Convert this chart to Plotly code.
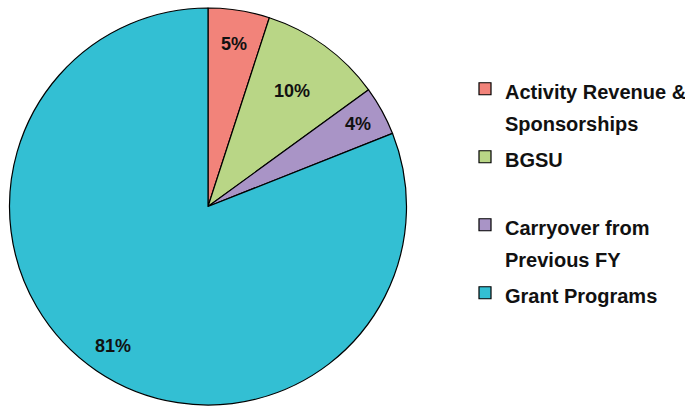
import math
import plotly.graph_objects as go

categories = ["Activity Revenue &<br>Sponsorships", "BGSU<br> ", "Carryover from<br>Previous FY", "Grant Programs"]
values = [5, 10, 4, 81]
value_labels = ["5%", "10%", "4%", "81%"]
colors = ["#F2837A", "#B9D686", "#A994C6", "#33BFD3"]
label_radius = [0.83, 0.72, 0.86, 0.85]

W, H = 685, 407
dom_x = [9 / W, 407 / W]
dom_y = [(H - 405) / H, (H - 8) / H]
FONT = "Liberation Sans, Arial, sans-serif"


def legend_text(s):
    return "<br>".join('<span style="font-size:20px">%s</span>' % part for part in s.split("<br>"))


fig = go.Figure(go.Pie(
    labels=[legend_text(c) for c in categories],
    values=values,
    sort=False,
    direction="clockwise",
    rotation=0,
    textinfo="none",
    hoverinfo="percent",
    marker=dict(colors=colors, line=dict(color="#000000", width=1.2)),
    domain=dict(x=dom_x, y=dom_y),
))

cx = (dom_x[0] + dom_x[1]) / 2 * W
cy = (1 - (dom_y[0] + dom_y[1]) / 2) * H
R = min((dom_x[1] - dom_x[0]) * W, (dom_y[1] - dom_y[0]) * H) / 2
total = sum(values)
cum = 0
for v, t, f in zip(values, value_labels, label_radius):
    mid = (cum + v / 2) / total * 2 * math.pi
    cum += v
    px = cx + R * f * math.sin(mid)
    py = cy - R * f * math.cos(mid)
    fig.add_annotation(x=px / W, y=1 - py / H, xref="paper", yref="paper",
                       text=t, showarrow=False, xanchor="center", yanchor="middle",
                       font=dict(family=FONT, size=18, color="#111111", weight="bold"))

fig.update_layout(
    width=W, height=H,
    margin=dict(l=0, r=0, t=0, b=0, autoexpand=False),
    paper_bgcolor="white",
    plot_bgcolor="white",
    legend=dict(
        x=465 / W, xanchor="left",
        y=1 - 66 / H, yanchor="top",
        valign="top",
        font=dict(family=FONT, size=25, color="#111111", weight="bold"),
        bgcolor="rgba(0,0,0,0)",
        traceorder="normal",
    ),
    showlegend=True,
)

fig.write_html("out.html", config={"displayModeBar": False},
               post_script="document.body.style.margin='0px';")
